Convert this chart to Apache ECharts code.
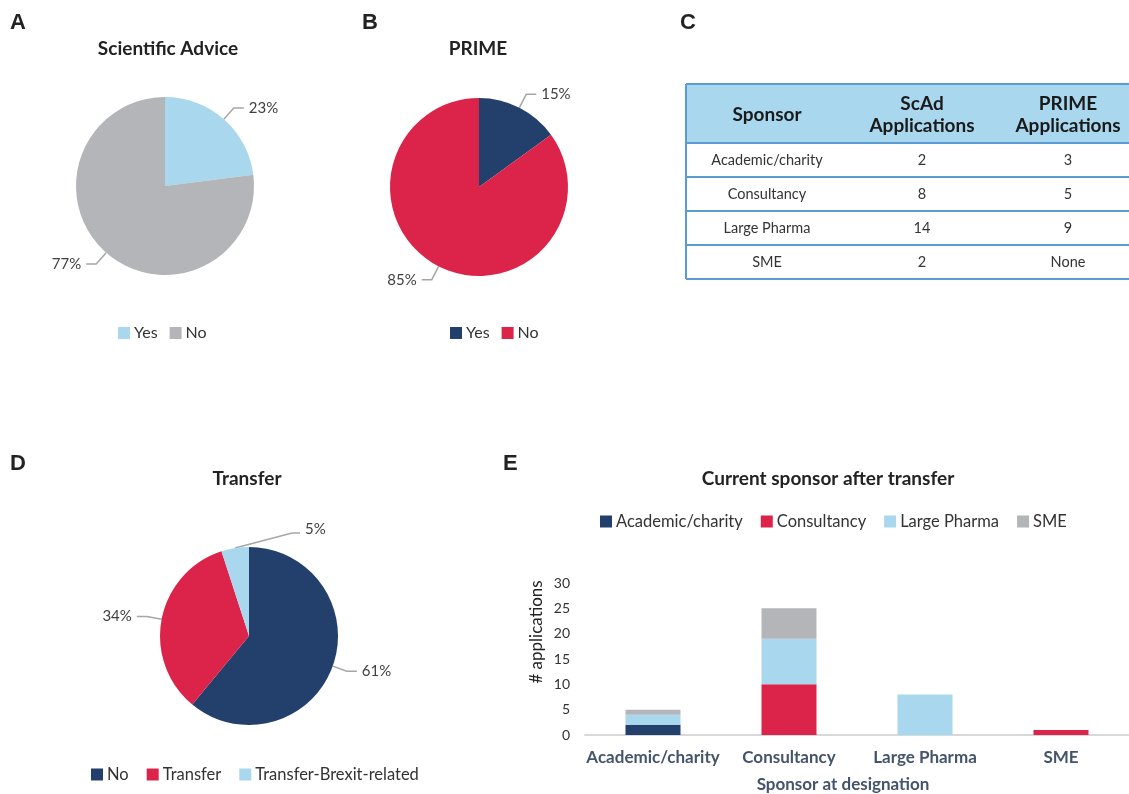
<!DOCTYPE html>
<html><head><meta charset="utf-8">
<script src="https://cdn.jsdelivr.net/npm/echarts@6/dist/echarts.min.js"></script>
<style>html,body{margin:0;padding:0;background:#fff}#c{width:1129px;height:794px}</style>
</head><body><div id="c"></div>
<script>
// ---------- data ----------
const pieALabels = ['Yes', 'No'];
const pieAValues = [23, 77];
const pieBLabels = ['Yes', 'No'];
const pieBValues = [15, 85];
const pieDLabels = ['No', 'Transfer', 'Transfer-Brexit-related'];
const pieDValues = [61, 34, 5];

const tableHeader = ['Sponsor', 'ScAd\nApplications', 'PRIME\nApplications'];
const tableSponsors = ['Academic/charity', 'Consultancy', 'Large Pharma', 'SME'];
const tableScAd = ['2', '8', '14', '2'];
const tablePrime = ['3', '5', '9', 'None'];

const barCategories = ['Academic/charity', 'Consultancy', 'Large Pharma', 'SME'];
const barSeriesNames = ['Academic/charity', 'Consultancy', 'Large Pharma', 'SME'];
const barAcademic = [2, 0, 0, 0];
const barConsultancy = [0, 10, 0, 1];
const barLargePharma = [2, 9, 8, 0];
const barSME = [1, 6, 0, 0];

// ---------- styles ----------
const LB = '#a9d7ee', GREY = '#b3b5b8', NAVY = '#233f6b', RED = '#dc244b';
const FONT = 'Lato, "Open Sans", sans-serif';
const LETTER_FONT = 'bold 22px "Liberation Sans", Arial, sans-serif';

const chart = echarts.init(document.getElementById('c'), null, {renderer: 'canvas'});

function pieSeries(labels, values, colors, center) {
  return {
    type: 'pie', radius: 89, center: center, startAngle: 90, clockwise: true,
    data: labels.map((n, i) => ({name: n, value: values[i], itemStyle: {color: colors[i]}})),
    label: {formatter: '{c}%', fontSize: 15, color: '#404040', fontFamily: FONT},
    labelLine: {length: 15, length2: 10, lineStyle: {color: '#a6a6a6', width: 1.5}},
    emphasis: {disabled: true}
  };
}
function legendFor(labels, colors, left, top, fs, gap) {
  return {
    left: left, top: top, itemWidth: 12, itemHeight: 12, itemGap: gap, icon: 'rect',
    selectedMode: false,
    textStyle: {fontSize: fs, color: '#333', fontFamily: FONT, padding: [0, 0, 0, -1]},
    data: labels.map((n, i) => ({name: n, itemStyle: {color: colors[i]}}))
  };
}

// ---------- graphics: letters, titles, table ----------
const g = [];
function txt(t, x, y, font, fill, align) {
  g.push({type: 'text', x: x, y: y, silent: true,
    style: {text: t, font: font, fill: fill || '#222', align: align || 'center', verticalAlign: 'middle'}});
}
txt('A', 10, 23, LETTER_FONT, '#222', 'left');
txt('B', 362, 23, LETTER_FONT, '#222', 'left');
txt('C', 680, 23, LETTER_FONT, '#222', 'left');
txt('D', 10, 464, LETTER_FONT, '#222', 'left');
txt('E', 503, 464, LETTER_FONT, '#222', 'left');
const TITLE_FONT = 'bold 19px ' + FONT;
txt('Scientific Advice', 168, 49, TITLE_FONT);
txt('PRIME', 478, 49, TITLE_FONT);
txt('Transfer', 247, 479, TITLE_FONT);
txt('Current sponsor after transfer', 828, 479, TITLE_FONT);

// table
const tX0 = 686, tX1 = 1140, tTop = 84, tHead = 143, rowH = 34;
const colCenters = [767, 922, 1068];
const BORDER = '#5b9bd5';
g.push({type: 'rect', silent: true, shape: {x: tX0, y: tTop, width: tX1 - tX0, height: tHead - tTop},
  style: {fill: LB}});
tableHeader.forEach((h, i) => {
  g.push({type: 'text', x: colCenters[i], y: (tTop + tHead) / 2 + 1, silent: true,
    style: {text: h, font: 'bold 19px ' + FONT, fill: '#1a1a1a', align: 'center', verticalAlign: 'middle', lineHeight: 22}});
});
const rows = tableSponsors.map((s, i) => [s, tableScAd[i], tablePrime[i]]);
rows.forEach((r, ri) => {
  const cy = tHead + rowH * ri + rowH / 2;
  r.forEach((c, ci) => txt(c, colCenters[ci], cy, '14.5px ' + FONT, '#333'));
});
const tBottom = tHead + rowH * rows.length;
const hLines = [tTop, tHead];
rows.forEach((r, ri) => hLines.push(tHead + rowH * (ri + 1)));
hLines.forEach(y => g.push({type: 'line', silent: true, shape: {x1: tX0, y1: y, x2: tX1, y2: y},
  style: {stroke: BORDER, lineWidth: 2}}));
g.push({type: 'line', silent: true, shape: {x1: tX0, y1: tTop, x2: tX0, y2: tBottom},
  style: {stroke: BORDER, lineWidth: 2}});

// ---------- option ----------
const barColors = [NAVY, RED, LB, GREY];
const barData = [barAcademic, barConsultancy, barLargePharma, barSME];

const pieD = pieSeries(pieDLabels, pieDValues, [NAVY, RED, LB], [249, 636]);
// the small slice's label is drawn to the right with a long leader line, as in the original
pieD.labelLayout = function (params) {
  if (params.dataIndex !== 2 || !params.labelLinePoints) return {};
  const p0 = params.labelLinePoints[0];
  const p1 = [p0[0] + 57, p0[1] - 15];
  const p2 = [p1[0] + 8, p1[1]];
  return {x: p2[0] + 5, y: p2[1] - 4, align: 'left', verticalAlign: 'middle',
    labelLinePoints: [p0, p1, p2]};
};

chart.setOption({
  backgroundColor: '#fff',
  animation: false,
  graphic: g,
  legend: [
    legendFor(pieALabels, [LB, GREY], 113, 320, 16, 12),
    legendFor(pieBLabels, [NAVY, RED], 445, 320, 16, 12),
    legendFor(pieDLabels, [NAVY, RED, LB], 86, 761, 16.5, 18),
    legendFor(barSeriesNames, barColors, 595, 508, 16.5, 18)
  ],
  grid: {left: 585, right: 0, top: 583, bottom: 58},
  xAxis: {
    type: 'category', data: barCategories,
    axisTick: {show: false},
    axisLine: {lineStyle: {color: '#d9d9d9', width: 2}},
    axisLabel: {interval: 0, fontSize: 17, fontWeight: 'bold', color: '#44546a', fontFamily: FONT, margin: 14},
    name: 'Sponsor at designation', nameLocation: 'middle', nameGap: 41,
    nameTextStyle: {fontSize: 17, fontWeight: 'bold', color: '#44546a', fontFamily: FONT, padding: [0, 28, 0, 0]}
  },
  yAxis: {
    type: 'value', min: 0, max: 30, interval: 5,
    axisLine: {show: false}, axisTick: {show: false}, splitLine: {show: false},
    axisLabel: {fontSize: 14, color: '#333', fontFamily: FONT, margin: 15},
    name: '# applications', nameLocation: 'middle', nameGap: 40,
    nameTextStyle: {fontSize: 17, color: '#222', fontFamily: FONT, padding: [0, 0, 0, 54]}
  },
  series: [
    pieSeries(pieALabels, pieAValues, [LB, GREY], [165, 186]),
    pieSeries(pieBLabels, pieBValues, [NAVY, RED], [479, 187]),
    pieD,
    ...barSeriesNames.map((n, i) => ({
      type: 'bar', name: n, stack: 'total', barWidth: 55,
      data: barData[i], itemStyle: {color: barColors[i]},
      emphasis: {disabled: true}
    }))
  ]
});
</script></body></html>
